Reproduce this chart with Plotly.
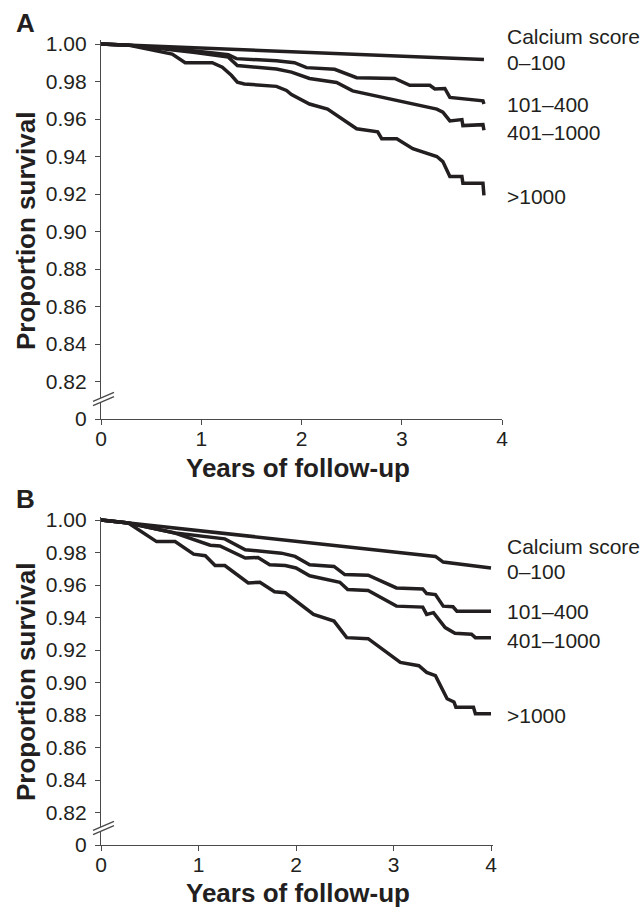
import plotly.graph_objects as go

# ---------------- data ----------------
groups = ["0–100", "101–400", "401–1000", ">1000"]

# Panel A
a_t_0_100 = [0, 3.82]
a_s_0_100 = [1.0, 0.9917]

a_t_101_400 = [0, 0.28, 0.94, 1.27, 1.35, 1.75, 1.93, 2.05, 2.33, 2.55, 2.93, 3.08, 3.28, 3.33, 3.43, 3.48, 3.81, 3.82]
a_s_101_400 = [1.0, 0.9994, 0.9963, 0.9943, 0.9922, 0.9911, 0.9900, 0.9874, 0.9865, 0.9820, 0.9816, 0.9780, 0.9780, 0.9760, 0.9763, 0.9715, 0.9697, 0.9680]

a_t_401_1000 = [0, 0.28, 0.94, 1.27, 1.36, 1.75, 1.90, 2.08, 2.35, 2.51, 3.35, 3.41, 3.48, 3.60, 3.61, 3.81, 3.82]
a_s_401_1000 = [1.0, 0.9994, 0.9955, 0.9930, 0.9885, 0.9867, 0.9850, 0.9816, 0.9795, 0.9750, 0.9653, 0.9637, 0.9590, 0.9597, 0.9565, 0.9570, 0.9540]

a_t_gt1000 = [0, 0.27, 0.71, 0.84, 1.11, 1.21, 1.30, 1.36, 1.43, 1.75, 1.85, 1.90, 2.08, 2.26, 2.55, 2.76, 2.80, 2.95, 3.11, 3.35, 3.41, 3.48, 3.60, 3.61, 3.81, 3.82]
a_s_gt1000 = [1.0, 0.9994, 0.9946, 0.9900, 0.9900, 0.9876, 0.9833, 0.9796, 0.9787, 0.9774, 0.9752, 0.9730, 0.9680, 0.9653, 0.9548, 0.9532, 0.9495, 0.9495, 0.9442, 0.9400, 0.9373, 0.9294, 0.9294, 0.9257, 0.9257, 0.9193]

# Panel B
b_t_0_100 = [0, 3.43, 3.51, 4.0]
b_s_0_100 = [1.0, 0.9776, 0.9741, 0.9705]

b_t_101_400 = [0, 0.28, 0.76, 1.07, 1.27, 1.48, 1.61, 1.85, 1.99, 2.14, 2.39, 2.50, 2.74, 3.03, 3.30, 3.34, 3.43, 3.51, 3.61, 3.65, 4.0]
b_s_101_400 = [1.0, 0.9982, 0.9920, 0.9898, 0.9884, 0.9817, 0.9810, 0.9796, 0.9776, 0.9725, 0.9714, 0.9664, 0.9660, 0.9582, 0.9576, 0.9547, 0.9541, 0.9470, 0.9466, 0.9439, 0.9439]

b_t_401_1000 = [0, 0.28, 0.76, 1.12, 1.22, 1.48, 1.61, 1.73, 1.89, 2.00, 2.14, 2.45, 2.53, 2.74, 3.03, 3.30, 3.34, 3.41, 3.53, 3.63, 3.80, 3.84, 4.0]
b_s_401_1000 = [1.0, 0.9982, 0.9919, 0.9845, 0.9840, 0.9766, 0.9769, 0.9725, 0.9720, 0.9705, 0.9657, 0.9617, 0.9572, 0.9566, 0.9470, 0.9464, 0.9419, 0.9430, 0.9338, 0.9303, 0.9297, 0.9276, 0.9276]

b_t_gt1000 = [0, 0.28, 0.57, 0.76, 0.95, 1.07, 1.17, 1.27, 1.51, 1.63, 1.78, 1.89, 2.18, 2.39, 2.52, 2.74, 3.07, 3.26, 3.34, 3.43, 3.55, 3.62, 3.64, 3.82, 3.84, 4.0]
b_s_gt1000 = [1.0, 0.9982, 0.9867, 0.9867, 0.9790, 0.9780, 0.9720, 0.9720, 0.9613, 0.9617, 0.9558, 0.9552, 0.9419, 0.9378, 0.9276, 0.9270, 0.9124, 0.9103, 0.9062, 0.9042, 0.8900, 0.8880, 0.8848, 0.8848, 0.8807, 0.8807]

y_tickvals = [0.80, 0.82, 0.84, 0.86, 0.88, 0.90, 0.92, 0.94, 0.96, 0.98, 1.00]
y_ticktext = ["0", "0.82", "0.84", "0.86", "0.88", "0.90", "0.92", "0.94", "0.96", "0.98", "1.00"]
x_tickvals = [0, 1, 2, 3, 4]
x_ticktext = ["0", "1", "2", "3", "4"]

legend_title = "Calcium score"
x_title = "Years of follow-up"
y_title = "Proportion survival"
panel_labels = ["A", "B"]

# ---------------- styling ----------------
W, H = 643, 907
FONT = "Liberation Sans, Arial, Helvetica, sans-serif"
TXT = "#231f20"
AX = "#4a4a4a"
LW = 3.5


def px(x):
    return x / W


def py(y):
    return 1 - y / H


fig = go.Figure()

panelA = [(a_t_0_100, a_s_0_100), (a_t_101_400, a_s_101_400),
          (a_t_401_1000, a_s_401_1000), (a_t_gt1000, a_s_gt1000)]
panelB = [(b_t_0_100, b_s_0_100), (b_t_101_400, b_s_101_400),
          (b_t_401_1000, b_s_401_1000), (b_t_gt1000, b_s_gt1000)]

for (t, s), g in zip(panelA, groups):
    fig.add_trace(go.Scatter(x=t, y=s, mode="lines", name=g, showlegend=False,
                             line=dict(color=TXT, width=LW), xaxis="x", yaxis="y"))
for (t, s), g in zip(panelB, groups):
    fig.add_trace(go.Scatter(x=t, y=s, mode="lines", name=g, showlegend=False,
                             line=dict(color=TXT, width=LW), xaxis="x2", yaxis="y2"))

axis_common = dict(showgrid=False, zeroline=False, showline=True, linecolor=AX, linewidth=1.4,
                   ticks="outside", ticklen=5, tickwidth=1.4, tickcolor=AX, automargin=False,
                   tickfont=dict(family=FONT, size=21, color=TXT))

fig.update_layout(
    width=W, height=H, margin=dict(l=0, r=0, t=0, b=0, pad=0, autoexpand=False),
    paper_bgcolor="white", plot_bgcolor="white", showlegend=False,
    xaxis=dict(domain=[px(101), px(502)], range=[0, 4], anchor="y",
               tickvals=x_tickvals, ticktext=x_ticktext, ticklabelstandoff=-4, **axis_common),
    yaxis=dict(domain=[py(419), py(40.25)], range=[0.80, 1.002], anchor="x",
               tickvals=y_tickvals, ticktext=y_ticktext, ticklabelstandoff=4, **axis_common),
    xaxis2=dict(domain=[px(101), px(492.95)], range=[0, 4.02], anchor="y2",
                tickvals=x_tickvals, ticktext=x_ticktext, ticklabelstandoff=-4, **axis_common),
    yaxis2=dict(domain=[py(845), py(516.75)], range=[0.80, 1.002], anchor="x2",
                tickvals=y_tickvals, ticktext=y_ticktext, ticklabelstandoff=4, **axis_common),
)

annots = []


def label(x, y, text, size=21, bold=False, xanchor="left", angle=0):
    annots.append(dict(x=px(x), y=py(y), xref="paper", yref="paper", text=("<b>%s</b>" % text) if bold else text,
                       showarrow=False, xanchor=xanchor, yanchor="middle", textangle=angle,
                       font=dict(family=FONT, size=size, color=TXT)))


# Panel A texts
label(25, 23, panel_labels[0], size=26, bold=True, xanchor="center")
label(505, 37, legend_title)
for name, yy in zip(groups, [63, 105, 132, 196]):
    label(505, yy, name)
label(298, 468, x_title, size=26, bold=True, xanchor="center")
label(26, 231, y_title, size=26, bold=True, xanchor="center", angle=-90)

# Panel B texts
label(25, 499, panel_labels[1], size=26, bold=True, xanchor="center")
label(505, 546, legend_title)
for name, yy in zip(groups, [571, 611, 640, 715]):
    label(505, yy, name)
label(298, 893, x_title, size=26, bold=True, xanchor="center")
label(26, 682, y_title, size=26, bold=True, xanchor="center", angle=-90)

fig.update_layout(annotations=annots)

# axis break marks "//"
shapes = []
for c in [399, 828]:
    c1, c2 = c - 2.2, c + 2.2
    d = 4.5
    path = "M %f,%f L %f,%f L %f,%f L %f,%f Z" % (
        px(93), py(c1 + d), px(114), py(c1 - d), px(114), py(c2 - d), px(93), py(c2 + d))
    shapes.append(dict(type="path", path=path, xref="paper", yref="paper",
                       fillcolor="white", line=dict(width=0), layer="above"))
    for cc in (c1, c2):
        shapes.append(dict(type="line", xref="paper", yref="paper",
                           x0=px(93), y0=py(cc + d), x1=px(114), y1=py(cc - d),
                           line=dict(color=AX, width=1.4), layer="above"))
fig.update_layout(shapes=shapes)

fig.write_html("out.html", config={"displayModeBar": False},
               post_script="document.body.style.margin='0px';document.body.style.overflow='hidden';")
